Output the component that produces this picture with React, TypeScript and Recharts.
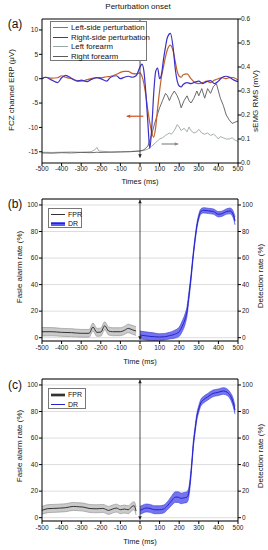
import React from 'react';
import { ComposedChart, Line, Area, XAxis, YAxis, CartesianGrid, ReferenceLine } from 'recharts';

const FONT = '"Liberation Sans", Arial, sans-serif';

// ---- (a) ERP at FCZ (µV) ----
const ERP_T = [-500, -480, -450, -420, -400, -380, -350, -320, -300, -270, -250, -220, -200, -170, -150, -120, -100, -80, -60, -40, -20,
  0, 10, 20, 30, 40, 50, 60, 70, 80, 90, 100, 110, 120, 130, 140,
  155, 170, 180, 190, 200, 210, 220,
  240, 260, 280, 300, 320, 340, 360, 380, 400, 420, 440, 460, 480, 500];
const ERP_LEFT_SIDE = [0, 0.3, 0.1, 0.2, 0.6, 0.3, 0, -0.4, -0.5, -0.2, 0, 0.2, 0.2, 0.4, 0.5, 0.9, 1.3, 1.5, 1.5, 1.1, 1.0,
  1.2, 0.5, -1, -3.5, -6.5, -9, -11, -12, -10, -6, -2.5, 0.5, 2.5, 4.5, 6,
  6.9, 5.5, 3.5, 1.5, 0.5, 0.3, 0.8,
  1, 0, -0.8, -1, -0.8, -0.5, -0.8, -0.3, 0, 0.2, 0, 0.3, 0.2, -0.3];
const ERP_RIGHT_SIDE = [0, 0.3, -0.3, -0.8, 0.2, 0.7, 0.1, -0.5, -0.3, -0.6, -0.2, 0.2, 0, -0.5, 0.3, 0.6, 0, 0.3, 0.5, 0.3, 0.6,
  2.4, 3.0, 1.5, -3, -9, -14.3, -10, -3, 1.5, 2.2, 0, 1, 4, 6.5, 8.5,
  9.3, 6, 2, -0.5, -1.5, -1.7, -1.2,
  -0.8, -1, -0.7, -0.5, -1, -0.6, -0.4, -1, -0.5, 0.3, 0.5, 0.2, -0.3, -0.6];

// ---- (a) sEMG RMS (mV) ----
const EMG_T = [-500, -450, -400, -350, -300, -250, -230, -220, -210, -150, -100, -50,
  0, 20, 40, 60, 80, 100,
  115, 130, 140, 150, 160, 175, 190, 200, 210, 225, 240, 250, 260, 275, 290, 300, 315, 330, 345, 360, 375, 390, 400, 410, 425, 440, 455, 470, 485, 500];
const EMG_LEFT_ARM = [0.045, 0.044, 0.045, 0.046, 0.045, 0.047, 0.055, 0.065, 0.05, 0.046, 0.047, 0.048,
  0.05, 0.052, 0.058, 0.07, 0.085, 0.1,
  0.105, 0.115, 0.12, 0.125, 0.12, 0.135, 0.16, 0.15, 0.135, 0.145, 0.13, 0.15, 0.135, 0.125, 0.13, 0.14, 0.125, 0.12, 0.125, 0.115, 0.12, 0.11, 0.1, 0.11, 0.105, 0.1, 0.1, 0.105, 0.095, 0.09];
const EMG_RIGHT_ARM = [0.042, 0.041, 0.043, 0.042, 0.044, 0.043, 0.044, 0.045, 0.044, 0.045, 0.046, 0.047,
  0.05, 0.055, 0.07, 0.12, 0.18, 0.23,
  0.26, 0.29, 0.28, 0.26, 0.28, 0.3, 0.28, 0.26, 0.23, 0.26, 0.28, 0.26, 0.25, 0.27, 0.3, 0.28, 0.31, 0.27, 0.31, 0.29, 0.32, 0.33, 0.3, 0.27, 0.24, 0.2, 0.18, 0.165, 0.17, 0.175];

// ---- (b) ----
const B_FPR_T = [-500, -450, -400, -350, -300, -260, -240, -220, -200, -180, -160, -140, -100, -80, -60, -40, -20];
const B_FPR = [4.5, 4.5, 4, 3.8, 3.3, 3.3, 8, 4, 4.2, 9, 5, 4.5, 4.5, 5.5, 7, 6, 5];
const B_FPR_SD = [3.2, 3.1, 3, 3, 2.9, 2.9, 3, 3, 3, 3, 3, 3, 3, 3, 3.2, 3.3, 3.3];
const B_DR_T = [0, 25, 50, 75, 100, 125, 150, 175, 200, 215, 230, 240, 250, 260, 270, 280, 290, 300, 310, 325, 350, 375, 400, 420, 440, 460, 475, 485];
const B_DR = [2, 1.5, 1, 0.7, 0.5, 0.7, 1.5, 2.5, 4.5, 8.5, 14, 20, 32, 45, 60, 73, 84, 91, 95, 96, 95.5, 95, 93, 93.5, 95, 95.5, 93, 88];
const B_DR_SD = [3, 3, 3, 2.8, 2.5, 2.5, 2.5, 3, 3.5, 4, 4, 3.5, 3, 2.5, 2, 2, 2, 2, 2, 2, 2, 2, 2, 2, 2, 2.2, 2.5, 3];

// ---- (c) ----
const C_FPR_T = [-500, -470, -440, -410, -380, -340, -310, -290, -260, -220, -190, -160, -140, -120, -100, -80, -60, -40, -30, -20];
const C_FPR = [5.5, 6.8, 7, 7.2, 7.5, 8.5, 8.2, 8, 7, 6.7, 7, 5.5, 6.5, 7.2, 6, 6.5, 6, 8.5, 9, 5];
const C_FPR_SD = [3, 3, 3, 3, 3, 3, 3, 3, 3, 3, 3, 3, 3, 3, 3, 3, 3, 3, 3, 3];
const C_DR_T = [0, 15, 30, 50, 75, 100, 120, 140, 160, 180, 195, 210, 225, 240, 250, 258, 265, 272, 280, 290, 300, 310, 325, 345, 370, 400, 425, 445, 460, 475, 485];
const C_DR = [5.5, 6.5, 7.3, 7, 6, 6, 6.5, 9, 12.5, 15.5, 15.5, 14.5, 15, 15.5, 20, 30, 42, 55, 65, 76, 82, 86.5, 89, 91, 93.5, 94.5, 95.5, 94.5, 92, 87, 81];
const C_DR_SD = [3, 3, 3, 3, 3, 3, 3, 3, 3.5, 4, 4, 4, 4, 4, 3.5, 3, 2.5, 2.5, 2.5, 2.5, 2.5, 2.5, 2.5, 2.5, 2.5, 2.5, 2.5, 2.5, 2.5, 3, 3];

const X_TICKS = [-500, -400, -300, -200, -100, 0, 100, 200, 300, 400, 500];
const ERP_TICKS = [-15, -10, -5, 0, 5, 10];
const EMG_TICKS = [0, 0.1, 0.2, 0.3, 0.4, 0.5, 0.6];
const RATE_TICKS = [0, 20, 40, 60, 80, 100];

const C_LEFT_SIDE = '#c0622a';
const C_RIGHT_SIDE = '#3b2fc9';
const C_LEFT_ARM = '#9aa6a4';
const C_RIGHT_ARM = '#5a5a5a';
const C_DR_LINE = '#2424cc';
const C_DR_BAND = '#5c5cee';

type Row = { t: number; [k: string]: any };

function merge(parts: { key: string; t: number[]; v: number[]; sd?: number[] }[]): Row[] {
  const byT = new Map<number, Row>();
  parts.forEach(({ key, t, v, sd }) => {
    t.forEach((ti, i) => {
      const row = byT.get(ti) ?? { t: ti };
      row[key] = v[i];
      if (sd) row[key + 'Band'] = [v[i] - sd[i], v[i] + sd[i]];
      byT.set(ti, row);
    });
  });
  return [...byT.values()].sort((a, b) => a.t - b.t);
}

const ERP_ROWS = merge([
  { key: 'erpL', t: ERP_T, v: ERP_LEFT_SIDE },
  { key: 'erpR', t: ERP_T, v: ERP_RIGHT_SIDE },
  { key: 'emgL', t: EMG_T, v: EMG_LEFT_ARM },
  { key: 'emgR', t: EMG_T, v: EMG_RIGHT_ARM },
]);
const B_ROWS = merge([
  { key: 'fpr', t: B_FPR_T, v: B_FPR, sd: B_FPR_SD },
  { key: 'dr', t: B_DR_T, v: B_DR, sd: B_DR_SD },
]);
const C_ROWS = merge([
  { key: 'fpr', t: C_FPR_T, v: C_FPR, sd: C_FPR_SD },
  { key: 'dr', t: C_DR_T, v: C_DR, sd: C_DR_SD },
]);

const TICK = { fontSize: 6.5, fill: '#222', fontFamily: FONT };

function head(x: number, y: number, dx: number, dy: number, color: string, size = 3.5) {
  const len = Math.hypot(dx, dy) || 1;
  const ux = dx / len, uy = dy / len;
  const bx = x - ux * size, by = y - uy * size;
  const px = -uy * size * 0.5, py = ux * size * 0.5;
  return <polygon points={`${x},${y} ${bx + px},${by + py} ${bx - px},${by - py}`} fill={color} />;
}

// arrow drawn by ReferenceLine; head at the segment end (and start too if both)
const arrowShape = (color: string, width: number, both = false) => (p: any) => {
  const { x1, y1, x2, y2 } = p;
  return (
    <g>
      <line x1={x1} y1={y1} x2={x2} y2={y2} stroke={color} strokeWidth={width} />
      {head(x2, y2, x2 - x1, y2 - y1, color)}
      {both && head(x1, y1, x1 - x2, y1 - y2, color)}
    </g>
  );
};

function Txt({ x, y, size, rot = 0, children, weight = 400 }: any) {
  return (
    <div style={{
      position: 'absolute', left: x, top: y, transform: `translate(-50%, -50%) rotate(${rot}deg)`,
      fontSize: size, fontFamily: FONT, color: '#111', whiteSpace: 'nowrap', lineHeight: 1, fontWeight: weight, zIndex: 2,
    }}>
      {children}
    </div>
  );
}

type LegendItem = { label: string; color: string; thick?: boolean; band?: string };

function LegendBox({ items, left, top, width, rowH, size, textX }: { items: LegendItem[]; left: number; top: number; width: number; rowH: number; size: number; textX: number }) {
  return (
    <div style={{
      position: 'absolute', left, top, width, height: items.length * rowH + 2, border: '1px solid #777',
      background: '#fff', boxSizing: 'border-box', zIndex: 2, fontFamily: FONT,
    }}>
      {items.map((it, i) => (
        <div key={it.label} style={{ position: 'absolute', left: 0, top: 1 + i * rowH, height: rowH, width: '100%' }}>
          {it.band && (
            <span style={{ position: 'absolute', left: 2, top: rowH / 2 - 2, width: textX - 5, height: 4, background: it.band }} />
          )}
          <span style={{ position: 'absolute', left: 2, top: rowH / 2 - (it.thick ? 0.75 : 0.5), width: textX - 5, height: it.thick ? 1.5 : 1, background: it.color }} />
          <span style={{ position: 'absolute', left: textX, top: 0, lineHeight: `${rowH}px`, fontSize: size, color: '#111', whiteSpace: 'nowrap' }}>{it.label}</span>
        </div>
      ))}
    </div>
  );
}

function RatePanel({ rows, top, tag }: { rows: Row[]; top: number; tag: string }) {
  return (
    <div style={{ position: 'absolute', left: 0, top }}>
      <ComposedChart width={268} height={188} data={rows} margin={{ top: 17, right: 8, bottom: 0, left: 12 }}>
        <CartesianGrid vertical={false} stroke="#cfcfcf" strokeWidth={0.7} />
        <XAxis dataKey="t" type="number" domain={[-500, 500]} allowDataOverflow ticks={X_TICKS} interval={0}
          height={28} tickSize={3} tickMargin={1} tick={TICK} stroke="#000" />
        <XAxis xAxisId="top" orientation="top" dataKey="t" type="number" domain={[-500, 500]} allowDataOverflow
          height={1} tick={false} tickLine={false} stroke="#000" />
        <YAxis type="number" domain={[-2.5, 104.5]} allowDataOverflow ticks={RATE_TICKS} interval={0}
          width={30} tickSize={3} tickMargin={1} tick={TICK} stroke="#000" />
        <YAxis yAxisId="r" orientation="right" type="number" domain={[-2.5, 104.5]} allowDataOverflow ticks={RATE_TICKS} interval={0}
          width={22} tickSize={3} tickMargin={1} tick={TICK} stroke="#000" />
        <Area dataKey="fprBand" type="monotone" stroke="#8a8a8a" strokeWidth={0.6} fill="#c4c4c4" fillOpacity={0.9}
          dot={false} activeDot={false} isAnimationActive={false} />
        <Area dataKey="drBand" type="monotone" stroke="#3c3cd8" strokeWidth={0.6} fill={C_DR_BAND} fillOpacity={0.85}
          dot={false} activeDot={false} isAnimationActive={false} />
        <Line dataKey="fpr" type="monotone" stroke="#333" strokeWidth={1} dot={false} activeDot={false} isAnimationActive={false} />
        <Line dataKey="dr" type="monotone" stroke={C_DR_LINE} strokeWidth={1} dot={false} activeDot={false} isAnimationActive={false} />
        <ReferenceLine segment={[{ x: 0, y: -1.5 }, { x: 0, y: 104 }]} shape={arrowShape('#222', 0.8, true)} />
      </ComposedChart>
      <Txt x={15} y={tag === '(b)' ? 23 : 24} size={12}>{tag}</Txt>
    </div>
  );
}

export default function App() {
  return (
    <div style={{ position: 'absolute', left: 0, top: 0, width: 268, height: 550, background: '#fff', fontFamily: FONT }}>
      {/* (a) ERP + sEMG */}
      <div style={{ position: 'absolute', left: 0, top: 0 }}>
        <ComposedChart width={268} height={190} data={ERP_ROWS} margin={{ top: 18, right: 8, bottom: 0, left: 12 }}>
          <XAxis dataKey="t" type="number" domain={[-500, 500]} allowDataOverflow ticks={X_TICKS} interval={0}
            height={27} tickSize={3} tickMargin={0} tick={TICK} stroke="#000" />
          <XAxis xAxisId="top" orientation="top" dataKey="t" type="number" domain={[-500, 500]} allowDataOverflow
            height={1} tick={false} tickLine={false} stroke="#000" />
          <YAxis yAxisId="erp" type="number" domain={[-17.3, 12.25]} allowDataOverflow ticks={ERP_TICKS} interval={0}
            width={30} tickSize={3} tickMargin={1} tick={TICK} stroke="#000" />
          <YAxis yAxisId="emg" orientation="right" type="number" domain={[0, 0.6]} allowDataOverflow ticks={EMG_TICKS} interval={0}
            tickFormatter={(v: number) => v.toFixed(1)} width={22} tickSize={3} tickMargin={0} tick={TICK} stroke="#000" />
          <Line yAxisId="emg" dataKey="emgL" type="linear" stroke={C_LEFT_ARM} strokeWidth={0.9} dot={false} activeDot={false} connectNulls isAnimationActive={false} />
          <Line yAxisId="emg" dataKey="emgR" type="linear" stroke={C_RIGHT_ARM} strokeWidth={0.9} dot={false} activeDot={false} connectNulls isAnimationActive={false} />
          <Line yAxisId="erp" dataKey="erpL" type="monotone" stroke={C_LEFT_SIDE} strokeWidth={1.2} dot={false} activeDot={false} connectNulls isAnimationActive={false} />
          <Line yAxisId="erp" dataKey="erpR" type="monotone" stroke={C_RIGHT_SIDE} strokeWidth={1.2} dot={false} activeDot={false} connectNulls isAnimationActive={false} />
          <ReferenceLine yAxisId="erp" segment={[{ x: 0, y: -16.2 }, { x: 0, y: 12 }]} shape={arrowShape('#222', 0.8, true)} />
          <ReferenceLine yAxisId="erp" segment={[{ x: 17, y: -7.7 }, { x: -68, y: -7.7 }]} shape={arrowShape('#d4501e', 1.2)} />
          <ReferenceLine yAxisId="erp" segment={[{ x: 110, y: -13.4 }, { x: 195, y: -13.4 }]} shape={arrowShape('#8a8a8a', 1.2)} />
        </ComposedChart>
      </div>
      <Txt x={138} y={7} size={8}>Perturbation onset</Txt>
      <Txt x={15} y={24} size={12}>(a)</Txt>
      <Txt x={12} y={90} size={8} rot={-90}>FCZ channel ERP (μV)</Txt>
      <Txt x={256} y={101} size={8} rot={-90}>sEMG RMS (mV)</Txt>
      <Txt x={140} y={182} size={7.5}>Times (ms)</Txt>
      <LegendBox left={50} top={21} width={97} rowH={9.6} size={7.8} textX={20} items={[
        { label: 'Left-side perturbation', color: C_LEFT_SIDE },
        { label: 'Right-side perturbation', color: C_RIGHT_SIDE },
        { label: 'Left forearm', color: C_LEFT_ARM },
        { label: 'Right forearm', color: C_RIGHT_ARM },
      ]} />

      {/* (b) */}
      <RatePanel rows={B_ROWS} top={181} tag="(b)" />
      <Txt x={20} y={267} size={8} rot={-90}>Fasle alarm rate (%)</Txt>
      <Txt x={261} y={276} size={8} rot={-90}>Detection rate (%)</Txt>
      <Txt x={140} y={362} size={7.5}>Time (ms)</Txt>
      <LegendBox left={48} top={208} width={34} rowH={9} size={7} textX={19} items={[
        { label: 'FPR', color: '#333' },
        { label: 'DR', color: C_DR_LINE, thick: true, band: C_DR_BAND },
      ]} />

      {/* (c) */}
      <RatePanel rows={C_ROWS} top={361} tag="(c)" />
      <Txt x={20} y={446} size={8} rot={-90}>Fasle alarm rate (%)</Txt>
      <Txt x={261} y={456} size={8} rot={-90}>Detection rate (%)</Txt>
      <Txt x={140} y={542} size={7.5}>Time (ms)</Txt>
      <LegendBox left={48} top={388} width={38} rowH={9.5} size={7} textX={19} items={[
        { label: 'FPR', color: '#333', thick: true, band: '#b8b8b8' },
        { label: 'DR', color: C_DR_LINE },
      ]} />
    </div>
  );
}
